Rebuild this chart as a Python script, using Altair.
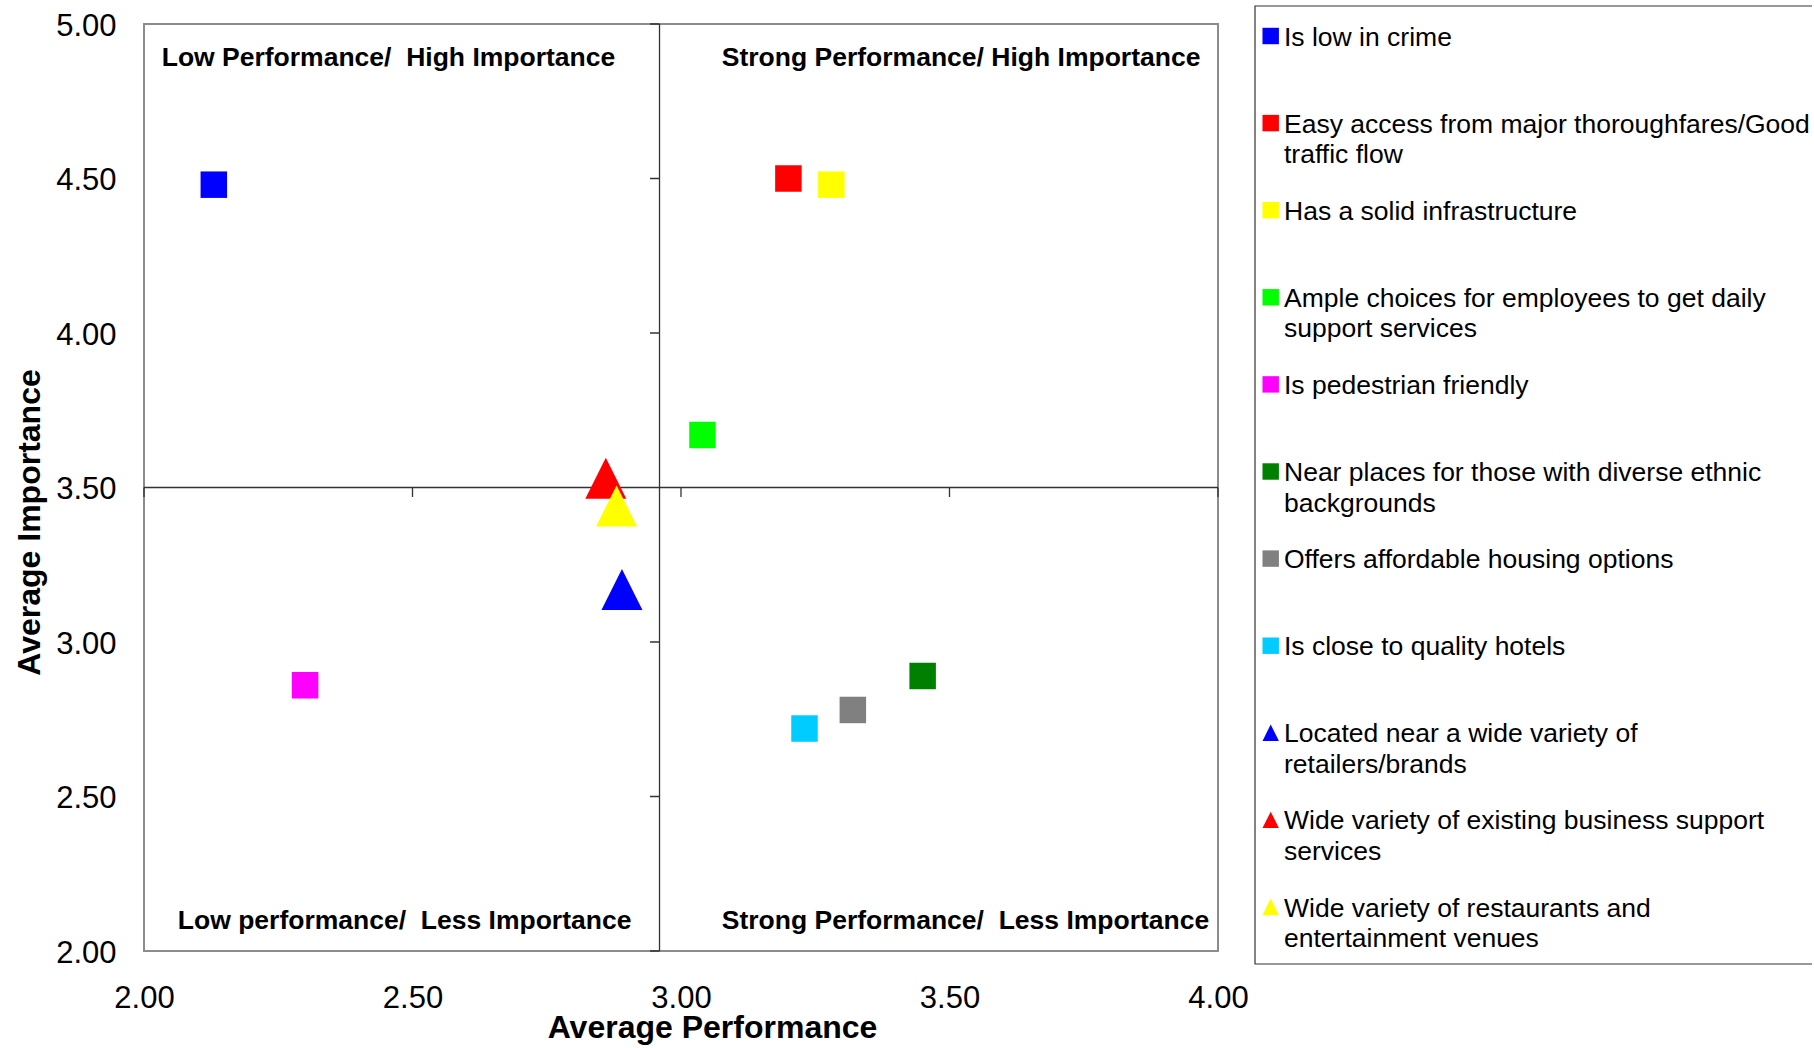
import altair as alt
import pandas as pd

# ---- data -------------------------------------------------------------
legend_labels = [
    "Is low in crime",
    "Easy access from major thoroughfares/Good\ntraffic flow",
    "Has a solid infrastructure",
    "Ample choices for employees to get daily\nsupport services",
    "Is pedestrian friendly",
    "Near places for those with diverse ethnic\nbackgrounds",
    "Offers affordable housing options",
    "Is close to quality hotels",
    "Located near a wide variety of\nretailers/brands",
    "Wide variety of existing business support\nservices",
    "Wide variety of restaurants and\nentertainment venues",
]
attributes = [s.replace("\n", " ") for s in legend_labels]

performance = [2.13, 3.20, 3.28, 3.04, 2.30, 3.45, 3.32, 3.23, 2.89, 2.86, 2.88]
importance = [4.48, 4.50, 4.48, 3.67, 2.86, 2.89, 2.78, 2.72, 3.17, 3.53, 3.44]

x_tick_values = [2.0, 2.5, 3.0, 3.5, 4.0]
y_tick_values = [2.0, 2.5, 3.0, 3.5, 4.0, 4.5, 5.0]
divider_tick_y = [2.0, 2.5, 3.0, 4.0, 4.5, 5.0]

# where the quadrant dividers cross
perf_divider = 2.96
imp_divider = 3.5

quadrant_text = [
    "Low Performance/ \u00a0High Importance",
    "Strong Performance/ High Importance",
    "Low performance/ \u00a0Less Importance",
    "Strong Performance/ \u00a0Less Importance",
]
quadrant_x = [2.033, 3.076, 2.063, 3.076]
quadrant_y = [4.891, 4.891, 2.0955, 2.0955]

# ---- styling ----------------------------------------------------------
FONT = "Liberation Sans"
SQUARE = "square"
TRIANGLE = "M0,-1L1,1L-1,1Z"
marker_colors = ["#0000FF", "#FF0000", "#FFFF00", "#00FF00", "#FF00FF", "#008000",
                 "#808080", "#00CCFF", "#0000FF", "#FF0000", "#FFFF00"]
marker_shapes = [SQUARE] * 8 + [TRIANGLE] * 3
DIVIDER = "#333333"

PLOT_W, PLOT_H = 1074, 927

points_df = pd.DataFrame({"Attribute": attributes, "Performance": performance,
                          "Importance": importance})
legend_df = pd.DataFrame({"Attribute": attributes, "row": list(range(len(attributes))),
                          "label": legend_labels})

x_scale = alt.Scale(domain=[2, 4], nice=False, zero=False)
y_scale = alt.Scale(domain=[2, 5], nice=False, zero=False)

x_axis = alt.Axis(values=x_tick_values, format=".2f", grid=False, domain=False,
                  ticks=False, tickSize=0, labelPadding=32, labelFlush=False,
                  labelOverlap=False, titleX=568, titleY=86, titleAlign="center",
                  titleBaseline="alphabetic")
y_axis = alt.Axis(values=y_tick_values, format=".2f", grid=False, domain=False,
                  ticks=False, tickSize=0, labelPadding=28, labelFlush=False,
                  labelOverlap=False, labelOffset=2, titleAngle=270, titleX=-105,
                  titleY=498, titleAlign="center", titleBaseline="alphabetic")


def X(field):
    return alt.X(f"{field}:Q", scale=x_scale, axis=x_axis, title="Average Performance")


def Y(field):
    return alt.Y(f"{field}:Q", scale=y_scale, axis=y_axis, title="Average Importance")


color_enc = alt.Color("Attribute:N", scale=alt.Scale(domain=attributes, range=marker_colors),
                      legend=None)
shape_enc = alt.Shape("Attribute:N", scale=alt.Scale(domain=attributes, range=marker_shapes),
                      legend=None)

square_attrs = [a for a, s in zip(attributes, marker_shapes) if s == SQUARE]
triangle_attrs = [a for a, s in zip(attributes, marker_shapes) if s == TRIANGLE]

# quadrant dividers
h_rule = alt.Chart(pd.DataFrame({"Importance": [imp_divider]})).mark_rule(
    color=DIVIDER, strokeWidth=1.3).encode(y=Y("Importance"))
v_rule = alt.Chart(pd.DataFrame({"Performance": [perf_divider]})).mark_rule(
    color=DIVIDER, strokeWidth=1.3).encode(x=X("Performance"))

h_ticks = alt.Chart(pd.DataFrame({"Performance": x_tick_values,
                                  "Importance": [imp_divider] * len(x_tick_values)})).mark_tick(
    orient="vertical", size=9.5, thickness=1.3, color=DIVIDER, yOffset=4.75, opacity=1
).encode(x=X("Performance"), y=Y("Importance"))
v_ticks = alt.Chart(pd.DataFrame({"Importance": divider_tick_y,
                                  "Performance": [perf_divider] * len(divider_tick_y)})).mark_tick(
    orient="horizontal", size=9.5, thickness=1.3, color=DIVIDER, xOffset=-4.75, opacity=1
).encode(x=X("Performance"), y=Y("Importance"))

# survey attributes
squares = alt.Chart(points_df).transform_filter(
    alt.FieldOneOfPredicate(field="Attribute", oneOf=square_attrs)
).mark_point(filled=True, opacity=1, strokeWidth=0, size=702).encode(
    x=X("Performance"), y=Y("Importance"), color=color_enc, shape=shape_enc)
triangles = alt.Chart(points_df).transform_filter(
    alt.FieldOneOfPredicate(field="Attribute", oneOf=triangle_attrs)
).mark_point(filled=True, opacity=1, strokeWidth=0, size=1681).encode(
    x=X("Performance"), y=Y("Importance"), color=color_enc, shape=shape_enc)

quadrants = alt.Chart(pd.DataFrame({"Performance": quadrant_x, "Importance": quadrant_y,
                                    "text": quadrant_text})).mark_text(
    align="left", baseline="middle", font=FONT, fontSize=26.5, fontWeight="bold", color="black"
).encode(x=X("Performance"), y=Y("Importance"), text="text:N")

plot = alt.layer(h_rule, v_rule, h_ticks, v_ticks, squares, triangles, quadrants)

# legend panel to the right of the plot
row_scale = alt.Scale(domain=[0, len(attributes) - 1], range=[12, 883])

legend_box = alt.Chart(pd.DataFrame({"box": [0]})).mark_rect(
    fillOpacity=0, stroke="#333333", strokeWidth=1.2
).encode(x=alt.value(1111), x2=alt.value(1720), y=alt.value(-18), y2=alt.value(940))

legend_symbols = alt.Chart(legend_df).mark_point(
    filled=True, opacity=1, strokeWidth=0, size=270
).encode(x=alt.value(1126.7), y=alt.Y("row:Q", scale=row_scale, axis=None),
         color=color_enc, shape=shape_enc)

legend_text = alt.Chart(legend_df).mark_text(
    align="left", baseline="top", dy=-11.5, font=FONT, fontSize=26.5, color="black",
    lineBreak="\n", lineHeight=30.5
).encode(x=alt.value(1140), y=alt.Y("row:Q", scale=row_scale, axis=None), text="label:N")

legend = alt.layer(legend_box, legend_symbols, legend_text)

chart = alt.layer(plot, legend).resolve_scale(y="independent").properties(
    width=PLOT_W, height=PLOT_H,
    padding={"left": 144, "top": 24, "right": 594, "bottom": 96},
    autosize=alt.AutoSizeParams(type="none"),
    background="white",
).configure_view(
    stroke="#8c8c8c", strokeWidth=2
).configure_axis(
    labelFont=FONT, labelFontSize=31, labelColor="black",
    titleFont=FONT, titleFontSize=32, titleFontWeight="bold", titleColor="black",
)

chart.save("out.html", embed_options={"renderer": "svg", "actions": False})
